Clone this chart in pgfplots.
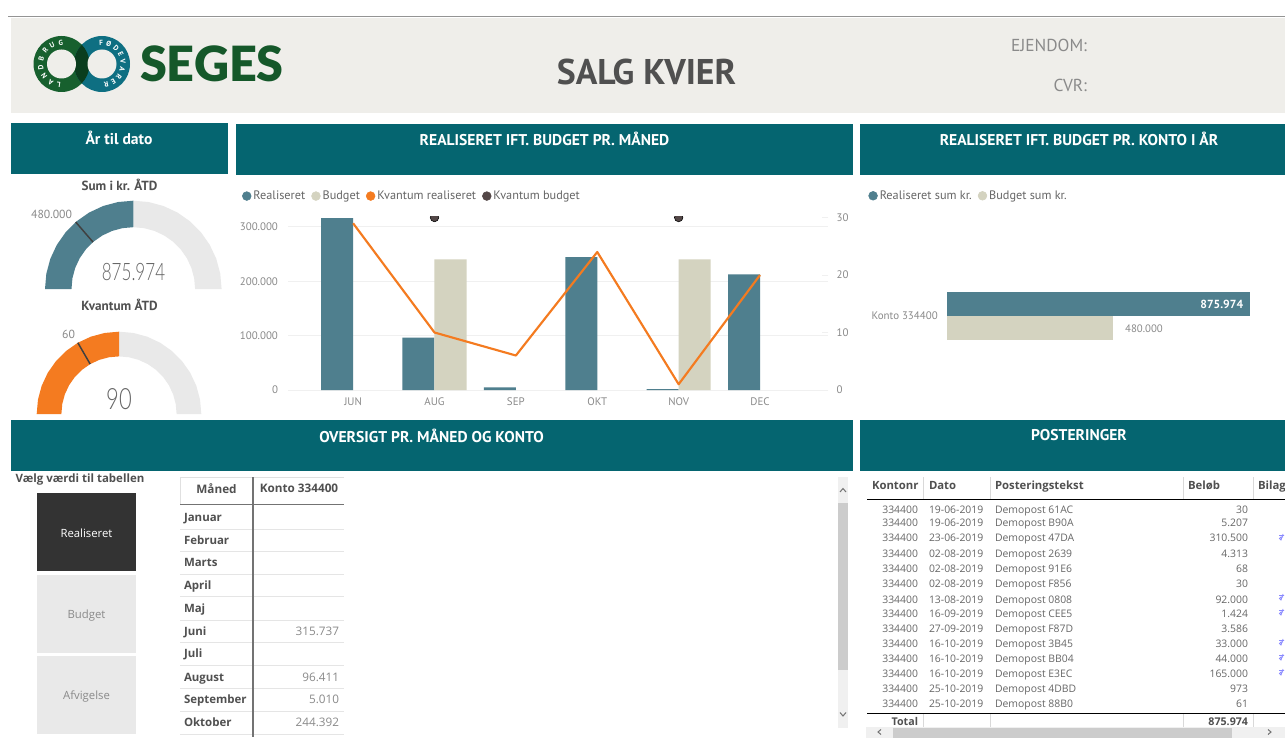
\documentclass[border=0pt]{standalone}
\usepackage{fontspec}
\usepackage{graphicx}
\usepackage{pgfplots}
\pgfplotsset{compat=1.18}
\usepackage{pgfplotstable}
\usetikzlibrary{decorations.text}
\setmainfont{PT Sans}
\newfontfamily\seg{Open Sans}
\newfontfamily\light{Lato Light}
\newfontfamily\blk{Lato Black}
\newcommand\fz[1]{\fontsize{#1}{#1}\selectfont}
\definecolor{teal}{HTML}{056570}
\definecolor{cR}{HTML}{4F7F8E}
\definecolor{cB}{HTML}{D4D3C0}
\definecolor{cO}{HTML}{F47B20}
\definecolor{cD}{HTML}{534747}
\definecolor{cG}{HTML}{E9E9E9}
\definecolor{bg}{HTML}{EFEEEA}
\definecolor{txt}{HTML}{666666}
\definecolor{lab}{HTML}{8A8A8A}
\definecolor{hd}{HTML}{505050}
\tikzset{t/.style={inner sep=0,outer sep=0}}
\pgfplotsset{
  dot/.style={legend image code/.code={\fill[#1] (0,0) circle (3.3pt);}},
}
\pgfplotstableread{
x real budget
0 315737 nan
1 96411 240000
2 5010 nan
3 244392 nan
4 1700 240000
5 212724 nan
}\mainbars
\pgfplotstableread{
x kvr kvb
0 29 nan
1 10 30
2 6 nan
3 24 nan
4 1 30
5 20 nan
}\mainqty
% half of a gauge band, outer edge then inner edge (inner radius 0.70 of outer)
\pgfplotstableread{
x y
-1 0
-0.9848 0.1736
-0.9397 0.3420
-0.8660 0.5
-0.7660 0.6428
-0.6428 0.7660
-0.5 0.8660
-0.3420 0.9397
-0.1736 0.9848
0 1
0 0.7
-0.1215 0.6894
-0.2394 0.6578
-0.35 0.6062
-0.45 0.5362
-0.5362 0.45
-0.6062 0.35
-0.6578 0.2394
-0.6894 0.1215
-0.7 0
}\bandleft
\pgfplotstableread{
x y
1 0
0.9848 0.1736
0.9397 0.3420
0.8660 0.5
0.7660 0.6428
0.6428 0.7660
0.5 0.8660
0.3420 0.9397
0.1736 0.9848
0 1
0 0.7
0.1215 0.6894
0.2394 0.6578
0.35 0.6062
0.45 0.5362
0.5362 0.45
0.6062 0.35
0.6578 0.2394
0.6894 0.1215
0.7 0
}\bandright
\begin{document}
\begin{tikzpicture}
\useasboundingbox (0,0) rectangle (963.75pt,-553.5pt);
\clip (0,0) rectangle (963.75pt,-553.5pt);
\begin{scope}[x=0.75pt,y=-0.75pt]
\fill[white] (0,0) rectangle (1285,738);
\fill[bg] (11,18) rectangle (1285,113);
\draw[color=black!42,line width=1.2pt] (8,16.5) -- (1285,16.5);
\foreach \a/\b/\c/\d in {11/123/228/174,236/124/853/175,860/124/1285/175,11/420/853/471,860/420/1285/471}
  \fill[teal] (\a,\b) rectangle (\c,\d);
\end{scope}

% ---- main combo chart
\begin{axis}[at={(288*0.75pt,-390*0.75pt)},anchor=south west,scale only axis,
  width=405pt,height=129.75pt,
  xmin=-0.80,xmax=5.835,ymin=0,ymax=318000,
  axis x line*=bottom,axis y line*=left,axis line style={draw=none},
  major tick length=0pt,tick style={draw=none},
  ymajorgrids,grid style={color=black!6,line width=0.75pt},
  xtick={0,1,2,3,4,5},xticklabels={JUN,AUG,SEP,OKT,NOV,DEC},
  ytick={0,100000,200000,300000},scaled y ticks=false,
  /pgf/number format/.cd,fixed,precision=0,1000 sep={.},assume math mode=true,
  /pgfplots/.cd,
  tick label style={font=\fz{8.2},color=lab},
  yticklabel style={xshift=-4pt},xticklabel style={yshift=-2.6pt},
  ybar=0pt,bar width=24pt,
  legend style={at={(-0.0855,1.121)},anchor=west,draw=none,fill=none,inner sep=0pt,
    font=\fz{9.2},text=txt,legend columns=4,
    /tikz/every odd column/.append style={column sep=-0.5pt},
    /tikz/every even column/.append style={column sep=2.5pt}},
  legend cell align=left]
\addlegendimage{dot=cR}\addlegendentry{Realiseret}
\addlegendimage{dot=cB}\addlegendentry{Budget}
\addlegendimage{dot=cO}\addlegendentry{Kvantum realiseret}
\addlegendimage{dot=cD}\addlegendentry{Kvantum budget}
\addplot[fill=cR,draw=none,forget plot,bar shift=-12pt] table[x=x,y=real]{\mainbars};
\addplot[fill=cB,draw=none,forget plot,bar shift=12pt] table[x=x,y=budget]{\mainbars};
\end{axis}
\begin{axis}[at={(288*0.75pt,-390*0.75pt)},anchor=south west,scale only axis,
  width=405pt,height=129.75pt,
  xmin=-0.80,xmax=5.835,ymin=0,ymax=30.09,
  axis x line=none,axis y line*=right,axis line style={draw=none},
  ytick={0,10,20,30},tick align=inside,major tick length=4.5pt,
  tick style={color=black!6,line width=0.75pt},
  tick label style={font=\fz{8.2},color=lab},
  /pgf/number format/assume math mode=true,
  yticklabel style={xshift=3pt},clip marker paths=true]
\addplot[color=cO,line width=1.6pt,line join=round] table[x=x,y=kvr]{\mainqty};
\addplot[only marks,mark=*,mark size=3.2pt,mark options={fill=cD,draw=none}] table[x=x,y=kvb]{\mainqty};
\end{axis}

% ---- account bars
\begin{axis}[at={(947.3*0.75pt,-360.5*0.75pt)},anchor=south west,scale only axis,
  width=233.25pt,height=67.5pt,
  xmin=0,xmax=900000,ymin=-1,ymax=1,
  xbar=0pt,bar width=18pt,clip=false,
  axis x line=none,axis y line*=left,axis line style={draw=none},
  major tick length=0pt,tick style={draw=none},
  ytick={0},yticklabels={Konto 334400},
  tick label style={font=\fz{8.2},color=lab},
  yticklabel style={xshift=-3.6pt},
  point meta=x,
  /pgf/number format/.cd,1000 sep={.},fixed,precision=0,assume math mode=true,
  /pgfplots/.cd,
  legend style={at={(-0.2545,1.83)},anchor=west,draw=none,fill=none,inner sep=0pt,
    font=\fz{9.2},text=txt,legend columns=2,
    /tikz/every odd column/.append style={column sep=-0.5pt},
    /tikz/every even column/.append style={column sep=2.5pt}},
  legend cell align=left]
\addlegendimage{dot=cR}\addlegendentry{Realiseret sum kr.}
\addlegendimage{dot=cB}\addlegendentry{Budget sum kr.}
\addplot[fill=cR,draw=none,forget plot,bar shift=9pt,
  nodes near coords,nodes near coords align={anchor=east},
  every node near coord/.append style={color=white,font=\bfseries\fz{8.8},xshift=-1.6pt,yshift=-0.7pt}]
  coordinates {(875974,0)};
\addplot[fill=cB,draw=none,forget plot,bar shift=-9pt,
  nodes near coords,nodes near coords align={anchor=west},
  every node near coord/.append style={color=lab,font=\fz{8.1},xshift=5.5pt,yshift=-1pt}]
  coordinates {(480000,0)};
\end{axis}

% ---- gauge 1: value 875974 of 1751948, target 480000
\begin{axis}[at={(45*0.75pt,-289*0.75pt)},anchor=south west,scale only axis,hide axis,clip=false,
  width=132.45pt,height=66.225pt,xmin=-1,xmax=1,ymin=0,ymax=1]
\addplot[fill=cG,draw=none] table {\bandright};
\addplot[fill=cR,draw=none] table {\bandleft};
\addplot[color=black!75,line width=1.1pt] coordinates {(-0.456,0.531)(-0.652,0.758)};
\end{axis}
% ---- gauge 2: value 90 of 180, target 60
\begin{axis}[at={(36.7*0.75pt,-414*0.75pt)},anchor=south west,scale only axis,hide axis,clip=false,
  width=123.45pt,height=61.725pt,xmin=-1,xmax=1,ymin=0,ymax=1]
\addplot[fill=cG,draw=none] table {\bandright};
\addplot[fill=cO,draw=none] table {\bandleft};
\addplot[color=black!75,line width=1.1pt] coordinates {(-0.35,0.606)(-0.5,0.866)};
\end{axis}

% ---- logo
\begin{scope}[x=0.75pt,y=0.75pt,shift={(0,-48pt)}]
\definecolor{lg}{HTML}{17602E}\definecolor{lt}{HTML}{0E6F82}\definecolor{ld}{HTML}{0A3D1E}
\fill[lg] (61.5,0) circle (28);
\fill[lt] (102,0) circle (28);
\begin{scope}\clip (61.5,0) circle (28);\fill[ld] (102,0) circle (28);\end{scope}
\fill[bg] (61.5,0) circle (14.5);
\fill[bg] (102,0) circle (14.5);
\path[decorate,decoration={text along path,text align={fit to path},
  text={|\color{white}\bfseries\fz{5.5}|LANDBRUG}}] (61.5,0) ++(268:18.5) arc[start angle=268,end angle=85,radius=18.5];
\path[decorate,decoration={text along path,text align={fit to path},
  text={|\color{white}\bfseries\fz{5.5}|FØDEVARER}}] (102,0) ++(98:18.5) arc[start angle=98,end angle=-85,radius=18.5];
\node[t,anchor=west,font=\blk\fz{36.4},color=lg!92!black] at (140,0) {SEGES};
\end{scope}

% ---- texts
\begin{scope}[x=0.75pt,y=-0.75pt,every node/.style={t}]
\node[font=\bfseries\fz{26.8},color=hd] at (646.5,71.5) {SALG KVIER};
\node[anchor=east,font=\fz{13},color=lab] at (1087,45) {EJENDOM:};
\node[anchor=east,font=\fz{13},color=lab] at (1087,85) {CVR:};
\node[font=\bfseries\fz{11.7},color=white] at (119,137.5) {År til dato};
\node[font=\bfseries\fz{11.7},color=white] at (544.5,138.4) {REALISERET IFT. BUDGET PR. MÅNED};
\node[font=\bfseries\fz{11.7},color=white] at (1079,138.4) {REALISERET IFT. BUDGET PR. KONTO I ÅR};
\node[font=\bfseries\fz{11.7},color=white] at (431.5,435.4) {OVERSIGT PR. MÅNED OG KONTO};
\node[font=\bfseries\fz{11.7},color=white] at (1079,435.4) {POSTERINGER};
\node[font=\bfseries\fz{9.9},color=hd] at (119.5,184.5) {Sum i kr. ÅTD};
\node[font=\bfseries\fz{9.9},color=hd] at (119.5,304.7) {Kvantum ÅTD};
\node[anchor=east,font=\fz{8.8},color=lab] at (72,214.5) {480.000};
\node[anchor=east,font=\fz{8.8},color=lab] at (75,334) {60};
\node[font=\light\fz{18},color=txt] at (133.5,272.5) {\scalebox{0.71}[1]{875.974}};
\node[font=\light\fz{22},color=txt] at (119,399) {\scalebox{0.75}[1]{90}};

% slicer
\node[font=\seg\bfseries\fz{8.6},color=hd] at (80,480) {Vælg værdi til tabellen};
\fill[black!80] (37,493) rectangle (136,571);
\fill[cG] (37,575) rectangle (136,652.5);
\fill[cG] (37,656) rectangle (136,733.5);
\node[font=\seg\fz{8.5},color=white] at (86.5,533) {Realiseret};
\node[font=\seg\fz{8.5},color=lab,anchor=mid] at (86.5,615) {Budget};
\node[font=\seg\fz{8.5},color=lab,anchor=mid] at (86.5,696) {Afvigelse};

% month table
\foreach \yy in {529,551,574,596.5,620,642,665,688,711,734}
  \draw[black!10,line width=0.75pt] (180,\yy) -- (344,\yy);
\draw[black!12,line width=0.75pt] (180,477) -- (344,477) (180,477) -- (180,504);
\draw[black!55,line width=0.9pt] (180,504.5) -- (344,504.5);
\draw[black!55,line width=0.9pt] (253,477) -- (253,737);
\node[font=\seg\bfseries\fz{8.8},color=hd] at (216.5,488.5) {Måned};
\node[font=\seg\bfseries\fz{8.8},color=hd] at (299,488.5) {Konto 334400};
\foreach \yy/\m/\v in {518.4/Januar/,541/Februar/,563.2/Marts/,585.7/April/,608.7/Maj/,631.7/Juni/315.737,653.7/Juli/,677.7/August/96.411,700.4/September/5.010,723.4/Oktober/244.392}{
  \node[anchor=mid west,font=\seg\bfseries\fz{8.6},color=hd] at (184,\yy) {\m};
  \node[anchor=mid east,font=\seg\fz{8.8},color=lab] at (339,\yy) {\v};
}
% vertical scroll
\fill[black!6] (838,477) rectangle (848,728);
\fill[black!20] (838,503) rectangle (848,670);
\draw[black!55,line width=0.75pt] (840,492) -- (843,488.5) -- (846,492);
\draw[black!55,line width=0.75pt] (840,712.5) -- (843,716) -- (846,712.5);

% postings table
\draw[black!15,line width=0.75pt] (923.3,477) -- (923.3,499) (990,477) -- (990,499) (1183,477) -- (1183,499) (1253,477) -- (1253,499);
\draw[black!15,line width=0.75pt] (923.3,713) -- (923.3,728) (990,713) -- (990,728) (1183,713) -- (1183,728) (1253,713) -- (1253,728);
\draw[black,line width=0.8pt] (867,499.5) -- (1285,499.5);
\draw[black,line width=0.8pt] (867,713.3) -- (1285,713.3);
\foreach \x/\s in {872/Kontonr,929/Dato,995/Posteringstekst,1188/Beløb,1258/Bilag}
  \node[anchor=mid west,font=\seg\bfseries\fz{8.5},color=hd] at (\x,485.7) {\s};
\foreach \yy/\d/\p/\a in {509.7/19-06-2019/61AC/30,523.4/19-06-2019/B90A/5.207,538.4/23-06-2019/47DA/310.500,554/02-08-2019/2639/4.313,569/02-08-2019/91E6/68,584/02-08-2019/F856/30,599.7/13-08-2019/0808/92.000,614/16-09-2019/CEE5/1.424,629.5/27-09-2019/F87D/3.586,644/16-10-2019/3B45/33.000,659.3/16-10-2019/BB04/44.000,674.3/16-10-2019/E3EC/165.000,689/25-10-2019/4DBD/973,704/25-10-2019/88B0/61}{
  \node[anchor=mid east,font=\seg\fz{7.8},color=txt] at (918,\yy) {334400};
  \node[anchor=mid west,font=\seg\fz{7.8},color=txt] at (929,\yy) {\d};
  \node[anchor=mid west,font=\seg\fz{7.8},color=txt] at (995,\yy) {Demopost \p};
  \node[anchor=mid east,font=\seg\fz{7.8},color=txt] at (1248,\yy) {\a};
}
\foreach \yy in {537,597,612,642,657,672}
  \draw[blue!45!white,line width=0.6pt] (1283,\yy) -- (1281,\yy) arc[start angle=270,end angle=90,radius=1.5] -- (1283,\yy-3) (1279,\yy-1.5) -- (1284,\yy-1.5);
\node[anchor=mid east,font=\seg\bfseries\fz{8},color=hd] at (918,722) {Total};
\node[anchor=mid east,font=\seg\bfseries\fz{8},color=hd] at (1248,722) {875.974};
\fill[black!6] (866,727) rectangle (1285,738);
\fill[black!20] (893,727.5) rectangle (1232,738);
\draw[black!55,line width=0.75pt] (881,729.5) -- (878,732) -- (881,734.5);
\draw[black!55,line width=0.75pt] (1268,729.5) -- (1271,732) -- (1268,734.5);
\end{scope}
\end{tikzpicture}
\end{document}
